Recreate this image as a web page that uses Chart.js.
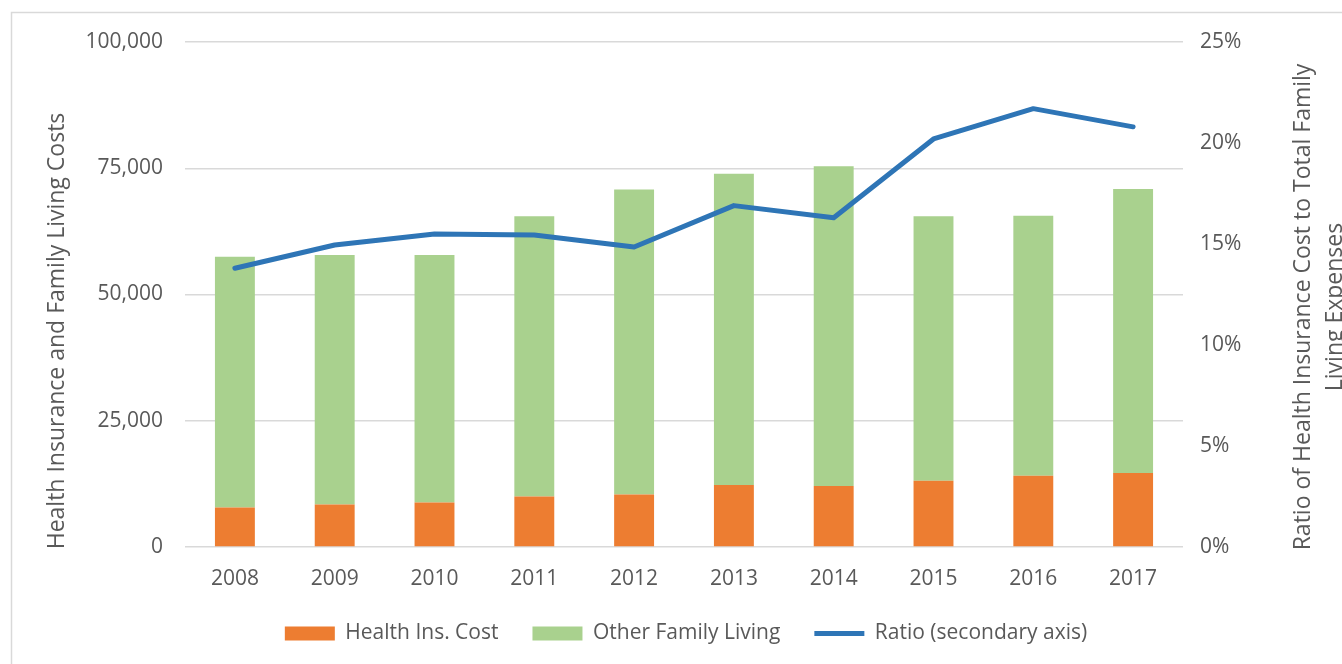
<!DOCTYPE html>
<html>
<head>
<meta charset="utf-8">
<script src="https://cdn.jsdelivr.net/npm/chart.js@4"></script>
<style>
  html, body { margin: 0; padding: 0; background: #fff; }
  #wrap { width: 1342px; height: 664px; }
</style>
</head>
<body>
<div id="wrap"><canvas id="chart" width="1342" height="664"></canvas></div>
<script>
// years on the x axis
const years = ['2008','2009','2010','2011','2012','2013','2014','2015','2016','2017'];
// health insurance cost (bottom of stack)
const healthCost = [7800, 8400, 8800, 10000, 10400, 12300, 12100, 13100, 14100, 14650];
// other family living (top of stack)
const otherLiving = [49700, 49400, 49000, 55500, 60400, 61600, 63300, 52400, 51500, 56250];
// ratio in percent, secondary axis
const ratioPct = [13.8, 14.95, 15.5, 15.45, 14.85, 16.9, 16.3, 20.2, 21.7, 20.8];

const leftTitle = 'Health Insurance and Family Living Costs';
const rightTitle = ['Ratio of Health Insurance Cost to Total Family', 'Living Expenses'];

const txt = '#595959';
const fnt = '"Open Sans", "Liberation Sans", sans-serif';

// titles drawn by hand: right one reads bottom to top like the left
const extras = {
  id: 'extras',
  beforeDraw(chart) {
    const ctx = chart.ctx;
    ctx.save();
    ctx.strokeStyle = '#D9D9D9';
    ctx.lineWidth = 1.5;
    ctx.strokeRect(11.5, 12.5, 1400, 700);
    ctx.restore();
  },
  afterDraw(chart) {
    const ctx = chart.ctx;
    const a = chart.chartArea;
    ctx.save();
    ctx.fillStyle = txt;
    ctx.font = '23px ' + fnt;
    ctx.textAlign = 'center';
    ctx.textBaseline = 'middle';
    ctx.save();
    ctx.translate(a.left - 128, 331);
    ctx.rotate(-Math.PI / 2);
    ctx.fillText(leftTitle, 0, 0);
    ctx.restore();
    ctx.save();
    ctx.translate(a.right + 120, 307);
    ctx.rotate(-Math.PI / 2);
    ctx.fillText(rightTitle[0], 0, 0);
    ctx.fillText(rightTitle[1], 0, 32);
    ctx.restore();
    ctx.restore();
  }
};

new Chart(document.getElementById('chart'), {
  type: 'bar',
  data: {
    labels: years,
    datasets: [
      {
        label: 'Health Ins. Cost',
        data: healthCost,
        backgroundColor: '#ED7D31',
        pointStyle: 'rect',
        barPercentage: 0.4,
        categoryPercentage: 1.0,
        order: 1
      },
      {
        label: 'Other Family Living',
        data: otherLiving,
        backgroundColor: '#A9D18E',
        pointStyle: 'rect',
        barPercentage: 0.4,
        categoryPercentage: 1.0,
        order: 1
      },
      {
        type: 'line',
        label: 'Ratio (secondary axis)',
        data: ratioPct,
        yAxisID: 'y1',
        borderColor: '#2E75B6',
        backgroundColor: '#2E75B6',
        borderWidth: 5,
        borderCapStyle: 'round',
        borderJoinStyle: 'round',
        pointStyle: 'line',
        pointRadius: 0,
        tension: 0,
        order: 0
      }
    ]
  },
  options: {
    responsive: false,
    animation: false,
    layout: { padding: { top: 42, left: 30, right: 0, bottom: 10 } },
    plugins: {
      tooltip: { enabled: false },
      legend: {
        position: 'bottom',
        labels: {
          usePointStyle: true,
          pointStyleWidth: 50,
          boxHeight: 14,
          padding: 34,
          color: txt,
          font: { family: fnt, size: 21 },
          sort: (a, b) => a.datasetIndex - b.datasetIndex
        }
      }
    },
    scales: {
      x: {
        stacked: true,
        grid: { display: false, drawTicks: false },
        border: { display: false },
        ticks: { color: txt, padding: 19, font: { family: fnt, size: 21 } },
        afterFit(s) { s.height = 42; }
      },
      y: {
        stacked: true,
        min: 0,
        max: 100000,
        grid: { color: '#D9D9D9', lineWidth: 1.5, drawTicks: false },
        border: { display: false },
        ticks: {
          stepSize: 25000,
          color: txt,
          padding: 22,
          font: { family: fnt, size: 21 },
          callback: v => v.toLocaleString('en-US')
        },
        afterFit(s) { s.width = 155; }
      },
      y1: {
        position: 'right',
        min: 0,
        max: 25,
        grid: { drawOnChartArea: false, drawTicks: false },
        border: { display: false },
        ticks: {
          stepSize: 5,
          color: txt,
          padding: 17,
          font: { family: fnt, size: 21 },
          callback: v => v + '%'
        },
        afterFit(s) { s.width = 159; }
      }
    }
  },
  plugins: [extras]
});
</script>
</body>
</html>
